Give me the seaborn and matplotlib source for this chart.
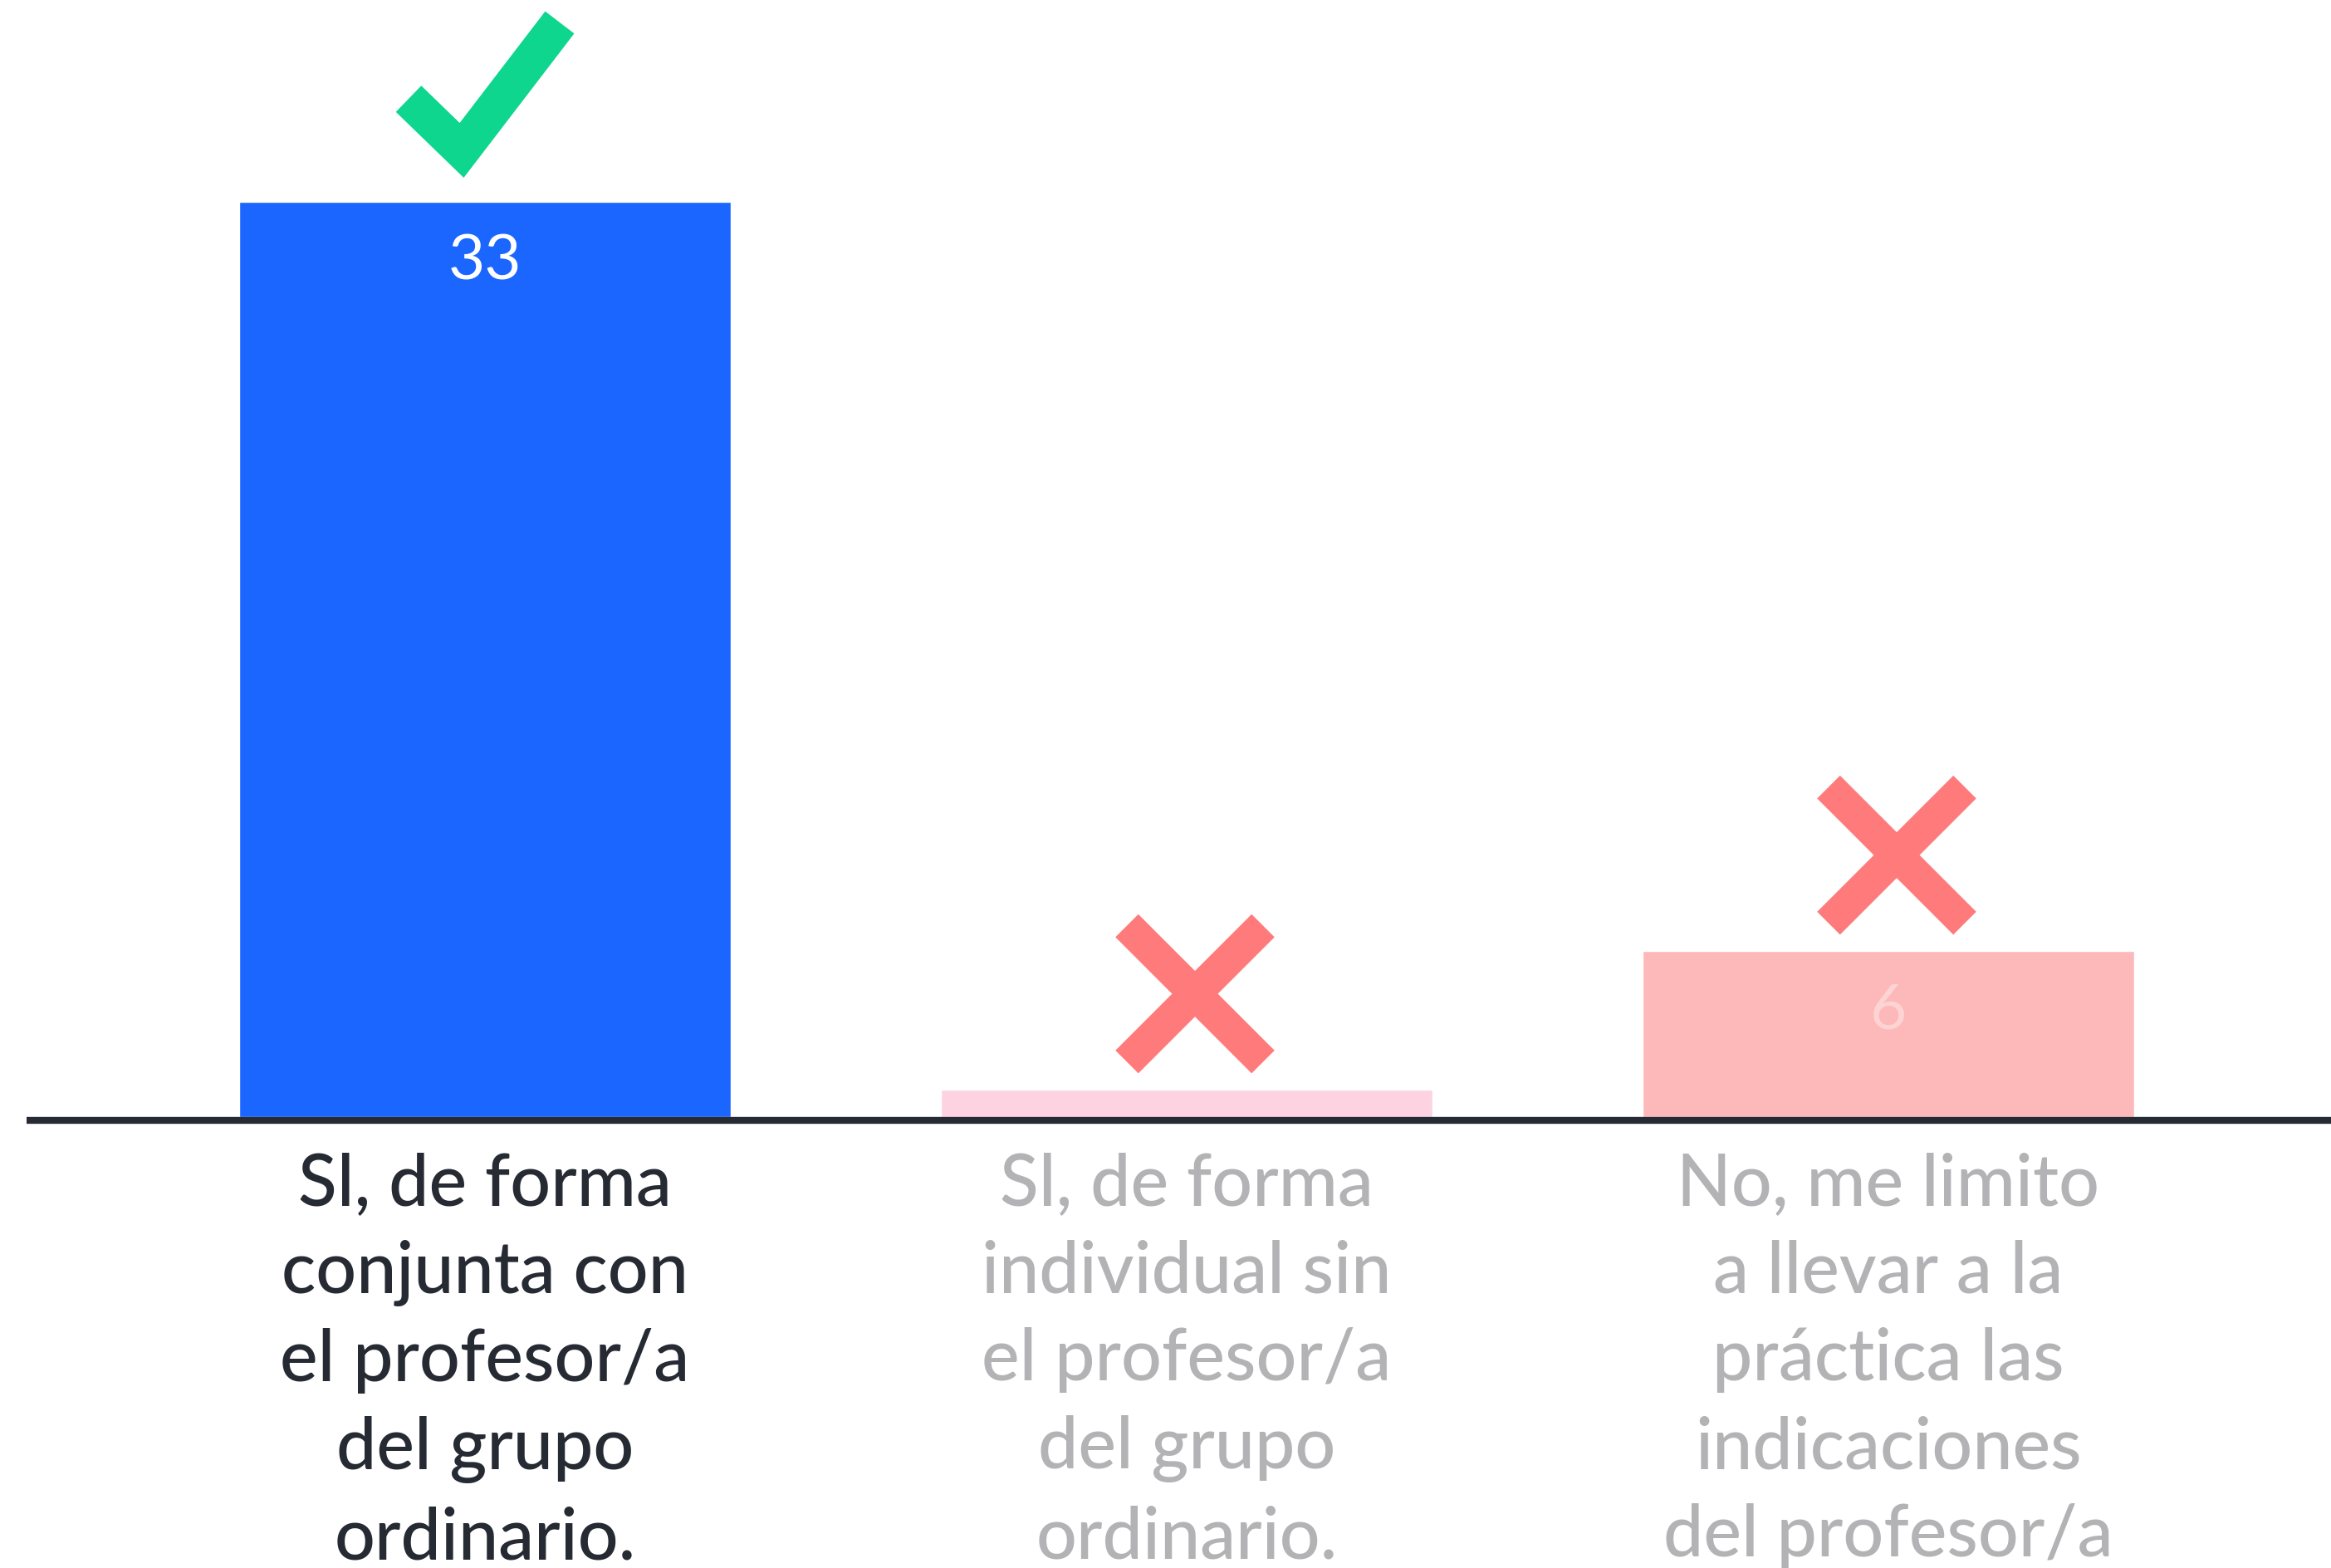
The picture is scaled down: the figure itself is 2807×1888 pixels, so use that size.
import matplotlib
matplotlib.use("Agg")
import matplotlib.pyplot as plt
from matplotlib.transforms import Affine2D, ScaledTranslation
from matplotlib.lines import Line2D
import seaborn as sns
import pandas as pd

# ---- data ----
categories = [
    "Sl, de forma\nconjunta con\nel profesor/a\ndel grupo\nordinario.",
    "Sl, de forma\nindividual sin\nel profesor/a\ndel grupo\nordinario.",
    "No, me limito\na llevar a la\npráctica las\nindicaciones\ndel profesor/a",
]
values = [33, 1, 6]
value_labels = ["33", "", "6"]
correct = [True, False, False]

bar_colors = ["#1A66FF", "#FDD3E2", "#FDB9B9"]
label_colors = ["#262A33", "#B3B3B6", "#B3B3B6"]
value_text_colors = ["#FFFFFF", "#FFFFFF", "#FDD3D3"]

# ---- figure ----
W, H, DPI = 2807, 1888, 100
sns.set_theme(style="white")
plt.rcParams["font.family"] = ["Lato", "DejaVu Sans"]

fig = plt.figure(figsize=(W / DPI, H / DPI), dpi=DPI)
base_px = 1345
ax = fig.add_axes([0, (H - base_px) / H, 1, base_px / H])

df = pd.DataFrame({"cat": categories, "val": values})
sns.barplot(data=df, x="cat", y="val", hue="cat",
            palette=dict(zip(categories, bar_colors)),
            width=0.70, saturation=1, legend=False, ax=ax)

# x/y limits: category spacing ~845 px, first center at 584 px
ax.set_xlim(-584 / 845, 2 + (W - 2274) / 845)
px_per_unit = 1102 / 33
ax.set_ylim(0, base_px / px_per_unit)

for s in ax.spines.values():
    s.set_visible(False)
ax.set_yticks([])
ax.set_xlabel("")
ax.set_ylabel("")
ax.set_xticks(range(len(categories)))
ax.set_xticklabels(categories, fontsize=62, linespacing=1.42, fontweight="medium")
ax.tick_params(axis="x", length=0, pad=30)
for lbl, c in zip(ax.get_xticklabels(), label_colors):
    lbl.set_color(c)

# baseline (sits just under the bars)
ax.axhline(-4 / px_per_unit, xmin=32 / W, xmax=1, color="#262A33", lw=6,
           zorder=5, solid_capstyle="butt", clip_on=False)

# value labels inside bars
for i, (v, t) in enumerate(zip(values, value_labels)):
    if t:
        ax.annotate(t, xy=(i, v), xytext=(0, -52), textcoords="offset points",
                    ha="center", va="center", fontsize=55, fontweight="normal",
                    color=value_text_colors[i])

# icons above bars (pixel-offset paths anchored at bar tops)
pt = 72 / DPI
for i, (v, ok) in enumerate(zip(values, correct)):
    tr = Affine2D().scale(1, -1) + ScaledTranslation(i, v, ax.transData)
    if ok:
        xs = [-92, -28, 90]
        ys = [-124, -62, -216]
        ln = Line2D(xs, ys, transform=tr, color="#0ED68F", lw=44 * pt,
                    solid_capstyle="butt", solid_joinstyle="miter", clip_on=False)
        ax.add_line(ln)
    else:
        cx, cy, a = 10, -115, 82
        for sx in (1, -1):
            ln = Line2D([cx - a * sx, cx + a * sx], [cy - a, cy + a], transform=tr,
                        color="#FF7B7B", lw=39 * pt, solid_capstyle="butt",
                        clip_on=False)
            ax.add_line(ln)

fig.savefig("out.png", dpi=DPI, facecolor="white")
